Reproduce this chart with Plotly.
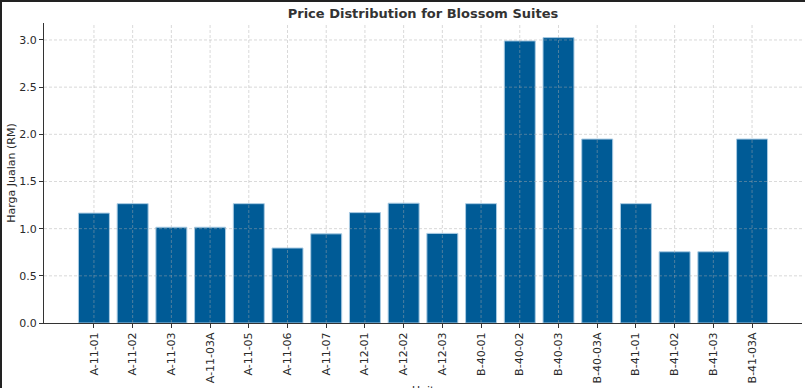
import plotly.graph_objects as go

units = ["A-11-01", "A-11-02", "A-11-03", "A-11-03A", "A-11-05", "A-11-06", "A-11-07",
         "A-12-01", "A-12-02", "A-12-03", "B-40-01", "B-40-02", "B-40-03", "B-40-03A",
         "B-41-01", "B-41-02", "B-41-03", "B-41-03A"]
prices = [1.165, 1.265, 1.015, 1.015, 1.265, 0.795, 0.945, 1.17, 1.27, 0.95,
          1.265, 2.99, 3.025, 1.95, 1.265, 0.755, 0.755, 1.95]
y_ticks = [0.0, 0.5, 1.0, 1.5, 2.0, 2.5, 3.0]

FONT = "DejaVu Sans"
W, H = 809, 388
ML, MR, MT, MB = 44, 7, 23, 65

fig = go.Figure(go.Bar(
    x=list(range(len(units))), y=prices, width=0.8,
    marker=dict(color="#005b96", line=dict(color="#a9cbe3", width=1)),
))

shapes = []
grid_style = dict(color="rgba(170,170,170,0.45)", width=1, dash="3px,2px")
for i in range(len(units)):
    shapes.append(dict(type="line", xref="x", yref="paper", x0=i, x1=i, y0=0, y1=1,
                       line=grid_style, layer="above"))
for t in y_ticks[1:]:
    shapes.append(dict(type="line", xref="paper", yref="y", x0=0, x1=1, y0=t, y1=t,
                       line=grid_style, layer="above"))
# screenshot frame (top and left dark border)
pw, ph = W - ML - MR, H - MT - MB
shapes.append(dict(type="line", xref="paper", yref="paper",
                   x0=-ML / pw, x1=(W - 4 - ML) / pw, y0=1 + (MT - 1) / ph, y1=1 + (MT - 1) / ph,
                   line=dict(color="#222", width=2)))
shapes.append(dict(type="line", xref="paper", yref="paper",
                   x0=-(ML - 1) / pw, x1=-(ML - 1) / pw, y0=-MB / ph, y1=1 + MT / ph,
                   line=dict(color="#222", width=2)))

fig.update_layout(
    width=W, height=H,
    margin=dict(l=ML, r=MR, t=MT, b=MB),
    paper_bgcolor="white", plot_bgcolor="white",
    font=dict(family=FONT, size=11, color="#2a2a2a"),
    title=dict(text="<b>Price Distribution for Blossom Suites</b>", x=0.5, xref="paper",
               xanchor="center", y=1 - 13 / H, yanchor="middle",
               font=dict(family=FONT, size=13, color="#333")),
    showlegend=False,
    shapes=shapes,
    annotations=[dict(text="Unit", xref="paper", yref="paper", x=0.5, y=-(382 - (H - MB)) / ph,
                      xanchor="center", yanchor="top", showarrow=False,
                      font=dict(family=FONT, size=11, color="#2a2a2a"))],
    xaxis=dict(
        tickmode="array", tickvals=list(range(len(units))), ticktext=units,
        tickangle=-90, range=[-1.29, 18.29], automargin=False,
        showgrid=False, zeroline=False,
        showline=True, linecolor="#333", linewidth=1,
        ticks="outside", ticklen=4, tickcolor="#333",
    ),
    yaxis=dict(
        range=[0, 3.18], tickmode="array", tickvals=y_ticks,
        tickformat=".1f", automargin=False,
        showgrid=False, zeroline=False,
        showline=True, linecolor="#333", linewidth=1,
        ticks="outside", ticklen=4, tickcolor="#333",
        title=dict(text="Harga Jualan (RM)", standoff=1, font=dict(size=11)),
    ),
)

fig.write_html("out.html", config={"displayModeBar": False},
               post_script="document.body.style.margin='0';document.body.style.overflow='hidden';")
